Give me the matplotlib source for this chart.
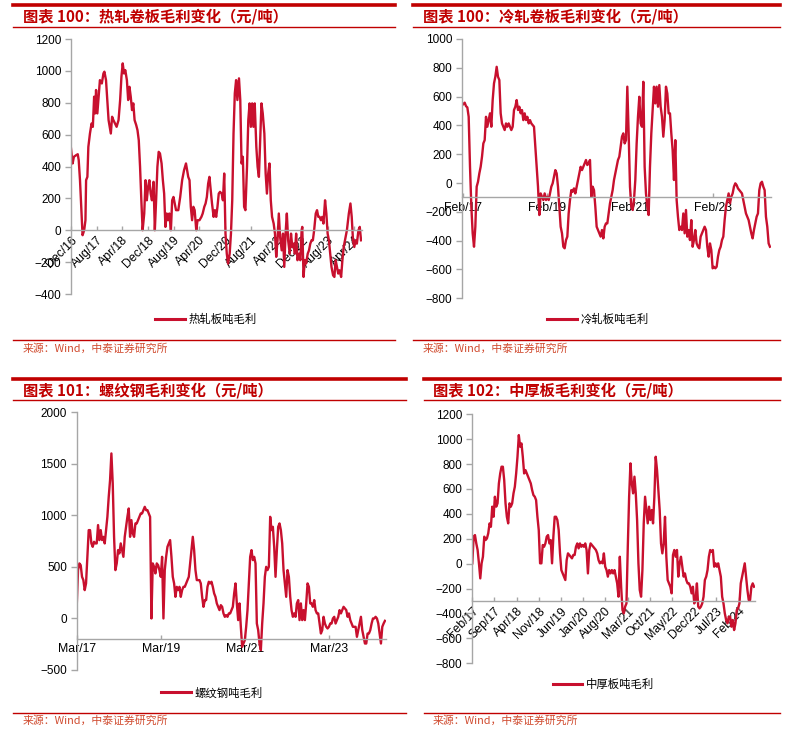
import numpy as np
import matplotlib
matplotlib.use('Agg')
import matplotlib.pyplot as plt
from matplotlib.lines import Line2D

plt.rcParams['font.family'] = ['Liberation Sans', 'Noto Sans CJK SC', 'DejaVu Sans']
CJK = ['Noto Sans CJK SC', 'DejaVu Sans']

# ---- data (元/吨), x in months from the first tick ----
# hot rolled coil, months since Dec/16
hr_x = [0.0,0.5,0.9,1.6,2.1,2.4,2.8,3.3,3.6,4.1,
        4.5,4.7,5.1,5.4,5.9,6.4,6.8,7.2,7.5,7.8,
        8.2,8.6,9.0,9.6,10.1,10.4,10.9,11.3,11.7,12.4,
        12.8,13.2,13.7,14.2,14.8,15.3,15.7,16.1,16.5,16.9,
        17.4,17.8,18.2,18.6,19.0,19.4,19.8,20.3,20.7,21.1,
        21.5,21.9,22.3,22.8,23.2,23.6,24.0,24.4,24.8,25.2,
        25.7,26.1,26.5,26.9,27.3,27.7,28.2,28.6,29.0,29.4,
        29.8,30.2,30.6,31.1,31.5,31.9,32.3,32.7,33.4,34.0,
        34.6,35.2,35.8,36.5,36.9,37.3,37.7,38.1,38.5,39.0,
        39.4,40.0,40.6,41.0,41.5,41.9,42.3,42.7,43.1,43.5,
        43.9,44.4,44.8,45.2,45.6,46.0,46.4,46.9,47.3,47.7,
        48.1,48.5,48.9,49.4,49.8,50.2,50.6,51.0,51.4,51.8,
        52.3,52.7,53.1,53.5,53.9,54.3,54.8,55.2,55.6,56.0,
        56.4,56.8,57.2,57.7,58.1,58.5,58.9,59.3,59.7,60.2,
        60.6,61.0,61.4,61.8,62.2,62.6,63.1,63.5,63.9,64.3,
        64.7,65.1,65.6,66.0,66.4,66.8,67.2,67.6,68.1,68.5,
        68.9,69.3,69.7,70.1,70.5,71.0,71.4,71.8,72.0,72.4,
        72.8,73.2,73.7,74.1,74.5,74.9,75.3,75.7,76.2,76.6,
        77.0,77.4,77.8,78.2,78.6,79.1,79.5,79.9,80.3,80.7,
        81.1,81.6,82.0,82.4,82.8,83.2,83.6,84.1,84.5,84.9,
        85.3,85.9,86.5,87.0,87.4,87.8,88.2,88.6,89.0,89.5,
        89.9,90.3]
hr_v = [513,419,461,471,477,440,314,105,-31,0,
        63,314,335,523,607,670,649,838,733,880,
        733,838,942,921,984,995,942,817,691,607,
        712,691,670,649,691,817,963,1047,984,1005,
        942,817,900,838,754,796,691,660,628,565,
        398,188,0,105,314,188,272,314,230,188,
        304,0,188,398,492,482,419,314,230,21,
        105,63,105,0,188,209,168,126,126,209,
        314,377,419,335,314,147,63,147,126,0,
        63,63,84,105,147,168,209,293,335,251,
        168,84,126,84,147,230,241,230,188,356,
        -21,-147,-209,-147,-21,188,607,859,942,817,
        953,817,419,461,147,126,398,691,796,649,
        796,649,796,523,398,335,565,796,733,607,
        356,230,356,419,188,84,42,-21,-167,-63,
        105,-42,-126,-21,-230,-21,105,-63,-147,-21,
        -105,-84,-147,-21,-188,-147,-188,0,21,-293,
        -188,-209,-147,-126,-84,-63,-63,0,105,126,
        84,84,63,84,42,188,105,-21,-63,-147,
        -230,-283,-293,-188,-230,-272,-251,-293,-188,-105,
        -63,0,105,168,84,-63,-105,-63,-84,0,
        21,-63]
hr_ticks = ['Dec/16', 'Aug/17', 'Apr/18', 'Dec/18', 'Aug/19', 'Apr/20',
            'Dec/20', 'Aug/21', 'Apr/22', 'Dec/22', 'Aug/23', 'Apr/24']

# cold rolled, weekly-ish from Feb/17 to Jun/24
cr_v = [548,558,534,525,460,113,-164,-349,-442,-303,
        -25,9,67,113,183,275,298,460,391,437,
        484,391,576,692,738,807,738,715,484,414,
        391,368,414,391,414,391,368,391,507,530,
        576,507,530,484,507,437,484,437,460,414,
        437,414,403,391,252,113,-25,-222,-72,-95,
        -118,-72,-118,-95,-118,-72,-25,-2,44,90,
        67,-25,-164,-303,-349,-442,-453,-396,-372,-211,
        -118,-49,-60,-37,-72,-25,21,67,113,90,
        113,137,160,125,137,160,-95,-25,-49,-164,
        -303,-326,-349,-372,-326,-384,-303,-280,-280,-211,
        -141,-95,-49,21,67,113,160,183,252,322,
        345,275,298,669,345,-25,-164,-187,-118,21,
        275,460,599,414,391,703,113,-72,-164,-222,
        113,345,507,669,553,669,530,680,530,460,
        322,437,669,622,484,484,345,229,21,298,
        -118,-234,-326,-303,-326,-211,-349,-187,-372,-326,
        -396,-257,-442,-396,-326,-419,-442,-453,-372,-349,
        -326,-303,-326,-442,-511,-419,-465,-592,-581,-592,
        -581,-511,-465,-442,-396,-372,-257,-164,-118,-72,
        -141,-95,-72,-25,-2,-14,-37,-49,-60,-72,
        -118,-164,-211,-234,-257,-303,-349,-384,-326,-280,
        -234,-211,-49,-2,9,-25,-49,-234,-303,-419,
        -442]
cr_span = (0, 88.3)
cr_ticks = ['Feb/17', 'Feb/19', 'Feb/21', 'Feb/23']

# rebar, from Mar/17 to Jun/24
rb_v = [113,469,534,517,404,372,275,340,598,857,
        857,728,695,744,728,728,906,760,857,760,
        792,728,857,986,1180,1342,1601,1310,792,469,
        534,663,631,728,663,598,792,889,986,1067,
        792,954,825,792,922,922,954,986,1019,1019,
        1051,1083,1051,1051,1019,986,0,534,501,437,
        534,517,469,404,598,0,469,598,695,728,
        760,598,404,340,210,307,275,307,210,275,
        307,307,340,372,404,534,663,792,663,469,
        372,372,372,340,210,113,178,178,307,356,
        340,356,307,243,210,146,113,81,129,113,
        49,16,32,16,49,49,81,113,243,340,
        146,-16,146,-81,-275,-243,-210,-81,81,340,
        598,663,566,598,534,-49,-113,-243,-307,-49,
        146,404,501,469,501,986,857,889,695,404,
        663,889,922,857,728,469,340,210,469,404,
        210,81,16,49,16,146,178,-16,146,-16,
        81,-16,146,340,307,146,146,113,178,81,
        49,49,-49,-146,-113,16,-49,-81,-97,-81,
        -49,-49,0,16,-49,-16,16,81,49,81,
        113,97,81,16,49,-16,-49,-81,-81,-81,
        -178,-113,-49,16,-113,-178,-243,-243,-146,-146,
        -113,-49,0,0,16,0,-49,-146,-243,-81,
        -49,-23]
rb_span = (0, 87.8)
rb_ticks = ['Mar/17', 'Mar/19', 'Mar/21', 'Mar/23']

# medium plate, from Feb/17 to Jun/24
pl_v = [3,217,230,163,110,3,-118,3,56,217,
        190,203,244,324,297,458,377,538,458,485,
        645,725,779,779,672,485,377,324,485,458,
        485,565,618,725,859,1033,940,966,859,725,
        752,725,699,672,645,592,551,538,511,377,
        270,3,3,150,136,163,217,230,163,190,
        3,217,377,377,351,270,83,-51,-78,-104,
        -131,29,83,70,56,43,70,70,136,163,
        123,163,136,150,136,163,110,-78,110,163,
        150,136,123,110,83,29,3,16,3,83,
        -24,-51,-104,-51,-78,-51,-78,-51,-104,-158,
        -265,56,-185,-372,-399,-345,-319,136,538,806,
        645,565,699,565,351,3,-211,-265,-51,324,
        538,431,324,458,351,431,324,538,859,752,
        592,431,163,83,163,377,56,-131,-158,-185,
        -238,70,110,56,110,-104,3,56,-24,-104,
        -78,-131,-158,-158,-185,-238,-185,-319,-292,-158,
        -345,-359,-345,-319,-265,-131,-104,-51,56,110,
        96,110,-24,3,-24,3,-51,-104,-265,-319,
        -399,-452,-479,-426,-426,-506,-452,-533,-479,-372,
        -359,-319,-158,-104,-51,3,-104,-211,-292,-292,
        -185,-158,-185]
pl_span = (0, 88.9)
pl_ticks = ['Feb/17', 'Sep/17', 'Apr/18', 'Nov/18', 'Jun/19', 'Jan/20', 'Aug/20',
            'Mar/21', 'Oct/21', 'May/22', 'Dec/22', 'Jul/23', 'Feb/24']

titles = ['图表 100：热轧卷板毛利变化（元/吨）', '图表 100：冷轧卷板毛利变化（元/吨）',
          '图表 101：螺纹钢毛利变化（元/吨）', '图表 102：中厚板毛利变化（元/吨）']
legends = ['热轧板吨毛利', '冷轧板吨毛利', '螺纹钢吨毛利', '中厚板吨毛利']
source = '来源：Wind，中泰证券研究所'

RED = '#C00000'
LINE = '#C8102E'
GRAY = '#A6A6A6'

W, H = 787, 738
fig = plt.figure(figsize=(W / 100, H / 100), dpi=100)


def px_axes(l, t, r, b):
    return fig.add_axes([l / W, 1 - b / H, (r - l) / W, (b - t) / H])


def hline(x0, x1, y, lw):
    fig.add_artist(Line2D([x0 / W, x1 / W], [1 - y / H] * 2, lw=lw, color=RED,
                          transform=fig.transFigure))


def style(ax, ylim, ystep, cross, xlim, step, labels, rot):
    ax.set_xlim(*xlim)
    ax.set_ylim(*ylim)
    ax.set_yticks(np.arange(ylim[0], ylim[1] + 1, ystep))
    ax.spines['top'].set_visible(False)
    ax.spines['right'].set_visible(False)
    for s in ('left', 'bottom'):
        ax.spines[s].set_color(GRAY)
        ax.spines[s].set_linewidth(1.0)
    ax.spines['bottom'].set_position(('data', cross))
    ticks = [i * step for i in range(len(labels))]
    if rot:
        ax.set_xticks(ticks, labels, rotation=45, ha='right', rotation_mode='anchor')
    else:
        ax.set_xticks(ticks, labels)
    ax.tick_params(axis='y', colors=GRAY, labelcolor='black', labelsize=8.5,
                   length=4, width=1, direction='out', pad=3)
    ax.tick_params(axis='x', colors=GRAY, labelcolor='black', labelsize=8.8,
                   length=3, width=1, direction='in', pad=3)
    ax.patch.set_visible(False)


# panel frames: (left, right, top line y, title y, thin y, bottom y, text x, source y)
frames = [(13, 395, 5, 16.7, 27.3, 340, 23, 348.3),
          (413, 780, 5, 16.7, 27.3, 340, 422.7, 348.3),
          (13, 406, 379.3, 390.7, 400, 713, 23, 721),
          (424, 780, 379.3, 390.7, 400, 713, 433, 721)]
for i, (x0, x1, yt, ytt, yth, yb, tx, ys) in enumerate(frames):
    hline(x0, x1, yt, 2.6)
    hline(x0, x1, yth, 1.0)
    hline(x0, x1, yb, 1.0)
    fig.text(tx / W, 1 - ytt / H, titles[i], fontsize=11, weight='bold',
             color=RED, va='center', ha='left', family=CJK)
    fig.text(tx / W, 1 - ys / H, source, fontsize=7.8, color='#D04A2E',
             va='center', ha='left', family=CJK)

legend_pos = [(206, 319.3), (598, 319.3), (212, 692.7), (603.5, 684.3)]

# panel 1: hot rolled
ax1 = px_axes(71, 39, 362, 294)
ax1.plot(hr_x, hr_v, color=LINE, lw=1.7, label=legends[0])
style(ax1, (-400, 1200), 200, 0, (0, 90.6), 8, hr_ticks, True)

# panel 2: cold rolled
ax2 = px_axes(462.3, 39, 771, 298.3)
ax2.plot(np.linspace(*cr_span, len(cr_v)), cr_v, color=LINE, lw=1.7, label=legends[1])
style(ax2, (-800, 1000), 200, -100, (-0.3, 88.6), 24, cr_ticks, False)

# panel 3: rebar
ax3 = px_axes(76.7, 412.3, 386, 670)
ax3.plot(np.linspace(*rb_span, len(rb_v)), rb_v, color=LINE, lw=1.7, label=legends[2])
style(ax3, (-500, 2000), 500, -200, (0, 88.1), 24, rb_ticks, False)

# panel 4: medium plate
ax4 = px_axes(472.3, 414.3, 755, 663.3)
ax4.plot(np.linspace(*pl_span, len(pl_v)), pl_v, color=LINE, lw=1.7, label=legends[3])
style(ax4, (-800, 1200), 200, -300, (0, 89.2), 7, pl_ticks, True)

for ax, (lx, ly) in zip((ax1, ax2, ax3, ax4), legend_pos):
    leg = ax.legend(loc='center', bbox_to_anchor=(lx / W, 1 - ly / H),
                    bbox_transform=fig.transFigure, frameon=False,
                    handlelength=2.6, handletextpad=0.3, borderaxespad=0,
                    prop={'family': CJK, 'size': 8.2})
    leg.get_lines()[0].set_linewidth(2.2)

fig.savefig('out.png', dpi=100)
